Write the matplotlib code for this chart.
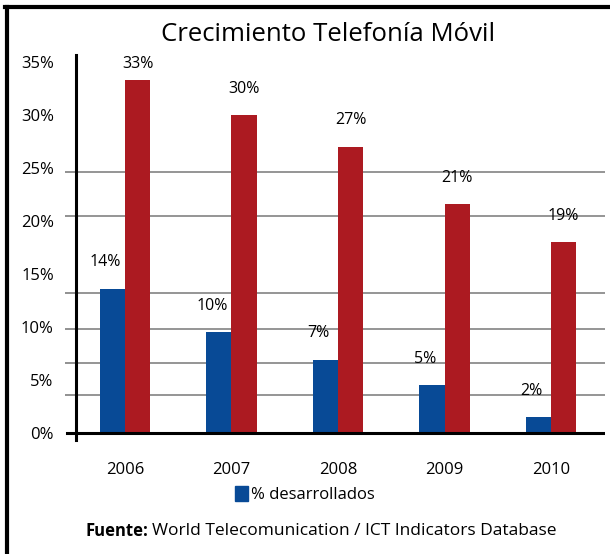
import numpy as np
import matplotlib.pyplot as plt
from matplotlib.lines import Line2D
from matplotlib.patches import Patch

plt.rcParams['font.family'] = ['Open Sans', 'DejaVu Sans']

years = ['2006', '2007', '2008', '2009', '2010']
desarrollados = [13.6, 9.5, 6.9, 4.5, 1.5]
desarrollados_txt = ['14%', '10%', '7%', '5%', '2%']
otros = [33.3, 30.0, 27.0, 21.6, 18.0]
otros_txt = ['33%', '30%', '27%', '21%', '19%']
y_labels = [0, 5, 10, 15, 20, 25, 30, 35]
# las lineas de la grilla del original no coinciden con las etiquetas
grid_levels = [3.6, 6.6, 9.8, 13.2, 20.5, 24.6, 30, 35]

blue = '#084a96'
red = '#ac1a21'

fig = plt.figure(figsize=(6.10, 5.54), dpi=100)
ax = fig.add_axes([0.1246, 0.2058, 0.8672, 0.6949])

x = np.arange(len(years))
w = 0.235
ax.bar(x - w / 2, desarrollados, w, color=blue, zorder=3)
ax.bar(x + w / 2, otros, w, color=red, zorder=3)

for xi, v, t in zip(x, desarrollados, desarrollados_txt):
    ax.annotate(t, (xi - w / 2, v), xytext=(-5, 19), textcoords='offset points',
                ha='center', va='center', fontsize=11.5)
for xi, v, t in zip(x, otros, otros_txt):
    ax.annotate(t, (xi + w / 2, min(v, 32.3)), xytext=(0, 19), textcoords='offset points',
                ha='center', va='center', fontsize=11.5)

ax.set_xlim(-0.46, 4.507)
ax.set_ylim(-0.66, 35.66)

ax.set_yticks(y_labels)
ax.set_yticklabels(['%d%%' % v for v in y_labels], fontsize=12)
ax.tick_params(axis='y', which='major', length=0, pad=16)
ax.set_yticks(grid_levels, minor=True)
ax.tick_params(axis='y', which='minor', length=8, width=1.3, color='#888888')
ax.grid(True, which='minor', axis='y', color='#8c8c8c', linewidth=1.3, zorder=1)

ax.set_xticks(x)
ax.set_xticklabels(years, fontsize=12)
ax.tick_params(axis='x', length=0, pad=16)

ax.axhline(0, color='black', linewidth=2.2, zorder=4)
ax.plot([-0.54, -0.46], [0, 0], color='black', linewidth=2.2, clip_on=False)

for s in ['top', 'right', 'bottom']:
    ax.spines[s].set_visible(False)
ax.spines['left'].set_linewidth(2.2)

fig.text(0.538, 0.937, 'Crecimiento Telefonía Móvil', ha='center', va='center', fontsize=18.5)

fig.legend(handles=[Patch(color=blue, label='% desarrollados')], loc='center',
           bbox_to_anchor=(0.5, 0.108), frameon=False, fontsize=12,
           handlelength=0.8, handleheight=1.0, handletextpad=0.2)

fig.text(0.243, 0.041, 'Fuente:', ha='right', va='center', fontsize=12, fontweight='bold')
fig.text(0.249, 0.041, 'World Telecomunication / ICT Indicators Database', ha='left', va='center', fontsize=12.5)

# marco
fig.add_artist(Line2D([0.011, 0.011], [0.0, 0.988], color='black', linewidth=3))
fig.add_artist(Line2D([0.009, 1.0], [0.987, 0.987], color='black', linewidth=3))

fig.savefig('out.png', dpi=100)
